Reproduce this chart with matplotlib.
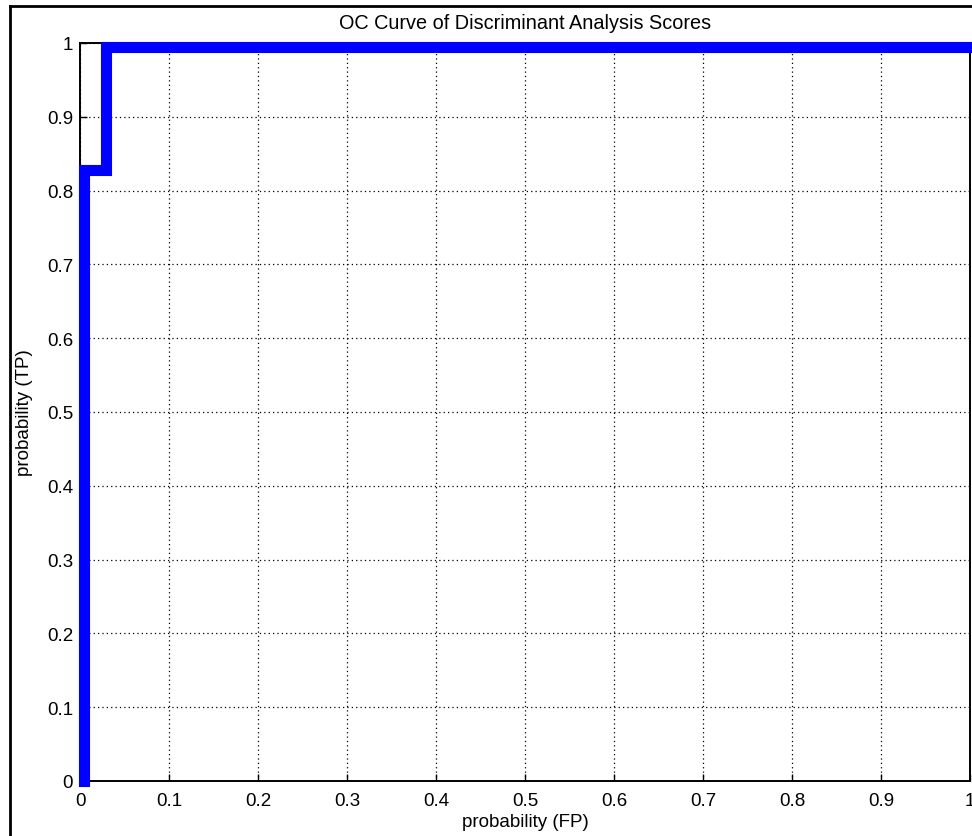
import matplotlib
matplotlib.use("Agg")
import matplotlib.pyplot as plt
from matplotlib.lines import Line2D

# --- data ---
fp = [0.004, 0.004, 0.029, 0.029, 1.0]
tp = [0.0, 0.828, 0.828, 0.995, 0.995]
ticks = [0, 0.1, 0.2, 0.3, 0.4, 0.5, 0.6, 0.7, 0.8, 0.9, 1]
tick_labels = ['0', '0.1', '0.2', '0.3', '0.4', '0.5', '0.6', '0.7', '0.8', '0.9', '1']

plt.rcParams['font.family'] = ['Liberation Sans', 'DejaVu Sans']

fig = plt.figure(figsize=(9.72, 8.37), dpi=100)
ax = fig.add_axes([80 / 972, 55 / 837, 890 / 972, 738 / 837])

ax.plot(fp, tp, color='#0000ff', lw=8, solid_capstyle='projecting', solid_joinstyle='miter', zorder=3, clip_on=False)

ax.set_xlim(0, 1); ax.set_ylim(0, 1)
ax.set_xticks(ticks); ax.set_xticklabels(tick_labels)
ax.set_yticks(ticks); ax.set_yticklabels(tick_labels)
ax.tick_params(direction='in', length=5, width=1, labelsize=13.5, colors='black')
ax.tick_params(axis='x', pad=8)
ax.tick_params(axis='y', pad=5)
ax.grid(True, color='black', linestyle=(0, (1, 2.5)), linewidth=0.9)
for s in ax.spines.values(): s.set_linewidth(1.4)

ax.set_title('OC Curve of Discriminant Analysis Scores', fontsize=14.3, pad=11)
ax.set_xlabel('probability (FP)', fontsize=13.5, labelpad=3)
ax.set_ylabel('probability (TP)', fontsize=13.5, labelpad=10)

# black frame edges of the cropped window
fig.add_artist(Line2D([10 / 972, 1], [1 - 7 / 837, 1 - 7 / 837], color='black', lw=2, transform=fig.transFigure))
fig.add_artist(Line2D([10 / 972, 10 / 972], [0, 1 - 7 / 837], color='black', lw=2, transform=fig.transFigure))

fig.savefig('out.png', dpi=100)
